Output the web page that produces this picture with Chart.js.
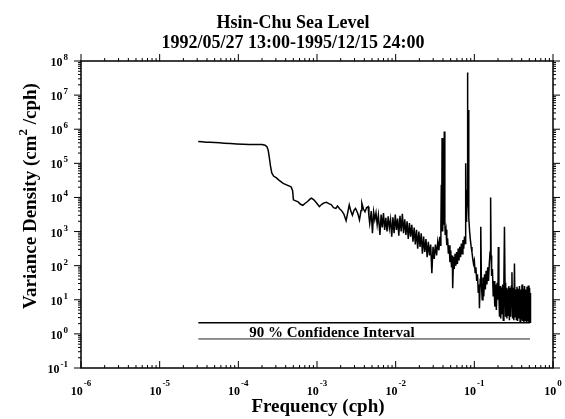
<!DOCTYPE html>
<html>
<head>
<meta charset="utf-8">
<script src="https://cdn.jsdelivr.net/npm/chart.js@4.4.1/dist/chart.umd.min.js"></script>
<style>
html, body { margin: 0; padding: 0; background: #fff; }
canvas { display: block; }
</style>
</head>
<body>
<canvas id="spectrum" width="565" height="419"></canvas>
<script>
// Hsin-Chu sea level spectrum (log10 of cph and cm^2/cph)
const logFreq = [
  -4.51, -4.46, -4.41, -4.36, -4.30, -4.24, -4.18, -4.10, -4.02, -3.94,
  -3.86, -3.78, -3.70, -3.66, -3.635, -3.62, -3.605, -3.59, -3.575, -3.55,
  -3.52, -3.48, -3.43, -3.38, -3.33, -3.31, -3.30, -3.27, -3.24, -3.21,
  -3.18, -3.15, -3.12, -3.09, -3.07, -3.04, -3.00, -2.97, -2.94, -2.91,
  -2.88, -2.85, -2.82, -2.79, -2.76, -2.74, -2.71, -2.69, -2.66, -2.63,
  -2.61, -2.59, -2.57, -2.55, -2.53, -2.51, -2.48, -2.46, -2.44, -2.43,
  -2.41, -2.39, -2.37, -2.35, -2.34, -2.33, -2.31, -2.295, -2.28, -2.265,
  -2.25, -2.235, -2.22, -2.20, -2.185, -2.17, -2.155, -2.14, -2.125, -2.11,
  -2.095, -2.08, -2.065, -2.05, -2.035, -2.02, -2.005, -1.99, -1.975, -1.96,
  -1.945, -1.93, -1.915, -1.90, -1.885, -1.87, -1.855, -1.84, -1.825, -1.81,
  -1.795, -1.78, -1.765, -1.75, -1.735, -1.72, -1.705, -1.69, -1.675, -1.66,
  -1.645, -1.63, -1.615, -1.60, -1.585, -1.57, -1.555, -1.54, -1.525, -1.51,
  -1.495, -1.48, -1.465, -1.45, -1.44, -1.43, -1.425, -1.42, -1.415, -1.41,
  -1.405, -1.40, -1.395, -1.39, -1.382, -1.375, -1.37, -1.36, -1.35, -1.34,
  -1.33, -1.32, -1.31, -1.30, -1.29, -1.28, -1.275, -1.265, -1.255, -1.245,
  -1.235, -1.225, -1.215, -1.205, -1.195, -1.185, -1.175, -1.165, -1.155, -1.145,
  -1.135, -1.125, -1.118, -1.112, -1.108, -1.104, -1.098, -1.092, -1.087, -1.083,
  -1.078, -1.073, -1.068, -1.06, -1.05, -1.04, -1.03, -1.02, -1.01, -1.00,
  -0.99, -0.98, -0.97, -0.96, -0.95, -0.94, -0.935, -0.925, -0.918, -0.91,
  -0.90, -0.89, -0.88, -0.87, -0.86, -0.85, -0.84, -0.83, -0.82, -0.81,
  -0.80, -0.793, -0.787, -0.78, -0.77, -0.76, -0.75, -0.74, -0.73, -0.72,
  -0.71, -0.70, -0.695, -0.688, -0.68, -0.672, -0.664, -0.656, -0.648, -0.64,
  -0.632, -0.624, -0.617, -0.61, -0.602, -0.594, -0.586, -0.578, -0.57, -0.562,
  -0.554, -0.546, -0.538, -0.53, -0.522, -0.514, -0.506, -0.498, -0.49, -0.482,
  -0.474, -0.466, -0.458, -0.45, -0.442, -0.434, -0.426, -0.418, -0.41, -0.402,
  -0.394, -0.386, -0.378, -0.37, -0.362, -0.354, -0.346, -0.338, -0.33, -0.322,
  -0.314, -0.306, -0.298, -0.29, -0.286
];
const logDensity = [
  5.64, 5.63, 5.62, 5.62, 5.61, 5.60, 5.59, 5.58, 5.57, 5.56,
  5.55, 5.55, 5.55, 5.53, 5.48, 5.38, 5.15, 4.90, 4.72, 4.62,
  4.58, 4.50, 4.41, 4.36, 4.31, 4.20, 3.93, 3.90, 3.87, 3.80,
  3.77, 3.83, 3.88, 3.95, 3.98, 3.93, 3.82, 3.73, 3.80, 3.84,
  3.86, 3.82, 3.79, 3.70, 3.68, 3.75, 3.66, 3.62, 3.52, 3.32,
  3.55, 3.78, 3.60, 3.48, 3.62, 3.68, 3.52, 3.34, 3.62, 3.83,
  3.66, 3.58, 3.70, 3.73, 3.45, 3.24, 3.60, 2.95, 3.58, 3.35,
  3.55, 3.20, 3.48, 2.90, 3.50, 3.12, 3.54, 3.05, 3.40, 3.00,
  3.45, 3.10, 3.35, 2.85, 3.42, 2.95, 3.50, 3.05, 3.38, 2.88,
  3.46, 3.00, 3.52, 2.95, 3.36, 2.90, 3.30, 2.78, 3.25, 2.85,
  3.20, 2.70, 3.12, 2.62, 3.05, 2.50, 3.00, 2.55, 2.95, 2.35,
  2.85, 2.40, 2.78, 2.25, 2.70, 2.30, 2.62, 1.78, 2.55, 2.20,
  2.62, 2.30, 2.70, 2.45, 2.85, 2.60, 3.10, 4.37, 3.00, 5.74,
  3.20, 3.00, 3.60, 3.20, 5.93, 3.30, 2.90, 3.05, 2.60, 2.80,
  2.35, 2.60, 2.10, 2.45, 1.95, 2.30, 1.34, 2.25, 1.90, 2.35,
  2.00, 2.40, 2.05, 2.50, 2.15, 2.55, 2.25, 2.65, 2.35, 2.75,
  2.50, 2.85, 2.65, 3.10, 5.00, 3.30, 3.60, 4.20, 7.66, 4.30,
  3.80, 6.56, 3.40, 3.00, 2.75, 2.55, 2.40, 2.20, 2.05, 2.15,
  1.80, 1.95, 1.55, 1.75, 1.20, 1.45, 0.75, 1.60, 3.14, 1.50,
  1.00, 1.65, 1.10, 1.75, 1.30, 1.85, 1.45, 1.95, 1.55, 2.05,
  2.40, 4.00, 2.30, 1.70, 1.90, 1.10, 1.55, 0.80, 1.45, 0.70,
  1.50, 1.00, 2.55, 1.20, 0.50, 1.40, 0.45, 1.35, 0.60, 1.45,
  0.40, 1.60, 3.14, 1.50, 0.50, 1.35, 0.45, 1.30, 0.55, 1.40,
  0.40, 1.35, 0.50, 1.40, 1.81, 0.45, 1.35, 0.40, 2.06, 0.50,
  1.30, 0.42, 1.38, 0.38, 1.32, 0.45, 1.40, 0.36, 1.30, 0.42,
  1.45, 0.38, 1.32, 0.35, 1.40, 0.40, 1.30, 0.34, 1.38, 0.36,
  1.42, 0.35, 1.35, 0.34, 1.20
];

// 90 % confidence interval bars
const ciFreq = [3.1e-5, 0.51];
const ciUpper = [2.13, 2.13];
const ciLower = [0.71, 0.71];
const ciLabel = '90 % Confidence Interval';

const xDecades = [-6, -5, -4, -3, -2, -1, 0];
const yDecades = [-1, 0, 1, 2, 3, 4, 5, 6, 7, 8];
const titleLines = ['Hsin-Chu Sea Level', '1992/05/27 13:00-1995/12/15 24:00'];
const xTitle = 'Frequency (cph)';

const serif = '"Liberation Serif", "DejaVu Serif", serif';

const spectrum = logFreq.map((lf, i) => ({ x: 10 ** lf, y: 10 ** logDensity[i] }));

function drawPow(ctx, exp, px, py, align, supRise) {
  const base = '10', sup = String(exp);
  ctx.font = 'bold 12px ' + serif;
  const wb = ctx.measureText(base).width;
  ctx.font = 'bold 9px ' + serif;
  const ws = ctx.measureText(sup).width;
  const left = align === 'right' ? px - wb - ws - 1 : px - (wb + ws + 1) / 2;
  ctx.textAlign = 'left';
  ctx.textBaseline = 'alphabetic';
  ctx.font = 'bold 12px ' + serif;
  ctx.fillText(base, left, py);
  ctx.font = 'bold 9px ' + serif;
  ctx.fillText(sup, left + wb + 1, py - supRise);
}

// frame, ticks and all texts
const frame = {
  id: 'frame',
  afterDraw(chart) {
    const { ctx, chartArea: a, scales: { x, y } } = chart;
    ctx.save();
    ctx.fillStyle = '#000';
    ctx.strokeStyle = '#000';

    ctx.lineWidth = 1;
    ctx.beginPath();
    xDecades.forEach((d, i) => {
      const px = x.getPixelForValue(10 ** d);
      ctx.moveTo(px, a.bottom); ctx.lineTo(px, a.bottom - 7);
      ctx.moveTo(px, a.top); ctx.lineTo(px, a.top - 7);
      if (i < xDecades.length - 1) {
        for (let m = 2; m <= 9; m++) {
          const pm = x.getPixelForValue(m * 10 ** d);
          ctx.moveTo(pm, a.bottom); ctx.lineTo(pm, a.bottom - 3);
          ctx.moveTo(pm, a.top); ctx.lineTo(pm, a.top - 3);
        }
      }
    });
    yDecades.forEach((d, i) => {
      const py = y.getPixelForValue(10 ** d);
      ctx.moveTo(a.left, py); ctx.lineTo(a.left - 7, py);
      ctx.moveTo(a.right, py); ctx.lineTo(a.right + 7, py);
      if (i < yDecades.length - 1) {
        for (let m = 2; m <= 9; m++) {
          const pm = y.getPixelForValue(m * 10 ** d);
          ctx.moveTo(a.left, pm); ctx.lineTo(a.left - 3, pm);
          ctx.moveTo(a.right, pm); ctx.lineTo(a.right + 3, pm);
        }
      }
    });
    ctx.stroke();

    ctx.lineWidth = 1.5;
    ctx.strokeRect(a.left, a.top, a.right - a.left, a.bottom - a.top);

    // tick labels
    xDecades.forEach(d => drawPow(ctx, d, x.getPixelForValue(10 ** d), a.bottom + 27, 'center', 9));
    yDecades.forEach(d => drawPow(ctx, d, 68, y.getPixelForValue(10 ** d) + 5, 'right', 6));

    // title
    ctx.textAlign = 'center';
    ctx.textBaseline = 'alphabetic';
    ctx.font = 'bold 18px ' + serif;
    ctx.fillText(titleLines[0], 293, 28);
    ctx.fillText(titleLines[1], 293, 48);

    // x axis title
    ctx.font = 'bold 19px ' + serif;
    ctx.fillText(xTitle, 318, 412);

    // confidence interval label
    ctx.font = 'bold 15px ' + serif;
    ctx.fillText(ciLabel, x.getPixelForValue(1.55e-3), 337);

    // y axis title with superscript
    ctx.translate(36, 196);
    ctx.rotate(-Math.PI / 2);
    const p1 = 'Variance Density (cm', p2 = '2', p3 = ' /cph)';
    ctx.font = 'bold 19px ' + serif;
    const w1 = ctx.measureText(p1).width, w3 = ctx.measureText(p3).width;
    ctx.font = 'bold 13px ' + serif;
    const w2 = ctx.measureText(p2).width;
    let cx = -(w1 + w2 + w3) / 2;
    ctx.textAlign = 'left';
    ctx.font = 'bold 19px ' + serif;
    ctx.fillText(p1, cx, 0);
    cx += w1;
    ctx.font = 'bold 13px ' + serif;
    ctx.fillText(p2, cx, -9);
    cx += w2;
    ctx.font = 'bold 19px ' + serif;
    ctx.fillText(p3, cx, 0);
    ctx.restore();
  }
};

new Chart(document.getElementById('spectrum'), {
  type: 'scatter',
  data: {
    datasets: [
      { data: spectrum, showLine: true, borderColor: '#000', borderWidth: 1.5, pointRadius: 0 },
      { data: ciFreq.map((f, i) => ({ x: f, y: ciUpper[i] })), showLine: true, borderColor: '#000', borderWidth: 1.5, pointRadius: 0 },
      { data: ciFreq.map((f, i) => ({ x: f, y: ciLower[i] })), showLine: true, borderColor: '#222', borderWidth: 1, pointRadius: 0 }
    ]
  },
  options: {
    responsive: false,
    animation: false,
    devicePixelRatio: 1,
    layout: { padding: { left: 81, right: 12, top: 61, bottom: 51 } },
    plugins: { legend: { display: false }, tooltip: { enabled: false } },
    scales: {
      x: { type: 'logarithmic', min: 1e-6, max: 1, display: false },
      y: { type: 'logarithmic', min: 0.1, max: 1e8, display: false }
    }
  },
  plugins: [frame]
});
</script>
</body>
</html>
